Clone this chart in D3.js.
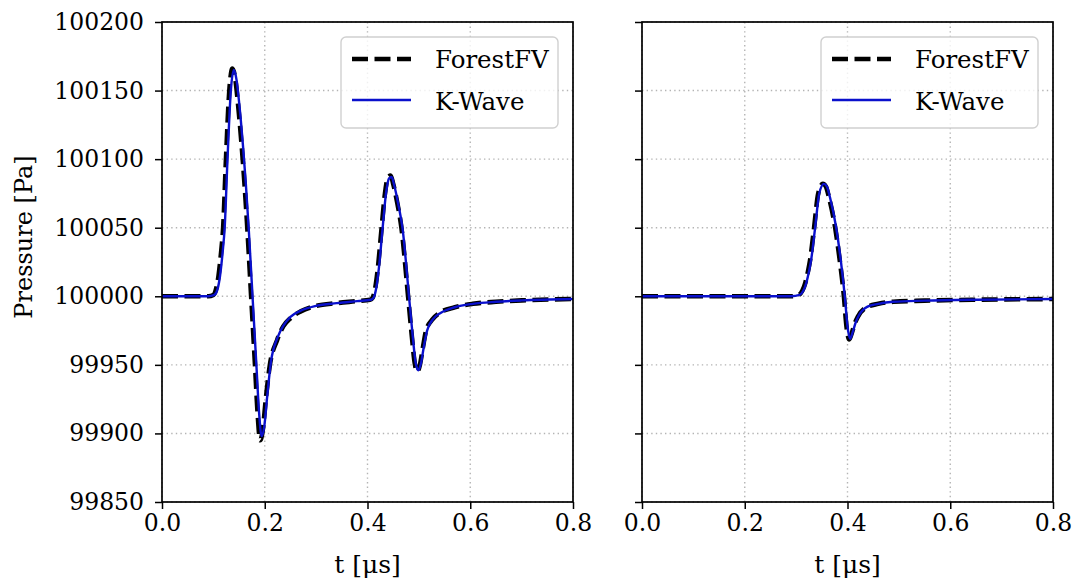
<!DOCTYPE html>
<html><head><meta charset="utf-8">
<script src="https://cdn.jsdelivr.net/npm/d3@7"></script>
<style>
html,body{margin:0;padding:0;background:#fff;}
svg{display:block;}
text{font-family:"DejaVu Serif","Liberation Serif",serif;fill:#000;}
</style></head>
<body><svg id="c" width="1075" height="581"></svg>
<script>
// ---------------- data ----------------
const seriesNames = ["ForestFV", "K-Wave"];
const xTicks = [0.0, 0.2, 0.4, 0.6, 0.8];
const yTicks = [99850, 99900, 99950, 100000, 100050, 100100, 100150, 100200];
const xLabel = "t [\u03bcs]";
const yLabel = "Pressure [Pa]";

// Left panel, ForestFV
const tLeftFV = [0,0.05,0.09,0.1,0.105,0.11,0.115,0.119,0.1245,0.131,0.137,0.142,0.148,0.155,0.16,0.166,0.1735,0.181,0.186,0.191,0.196,0.202,0.21,0.224,0.236,0.25,0.27,0.3,0.34,0.38,0.405,0.41,0.415,0.42,0.4275,0.434,0.44,0.445,0.45,0.458,0.466,0.479,0.486,0.492,0.497,0.502,0.508,0.514,0.526,0.541,0.57,0.605,0.65,0.7,0.8];
const pLeftFV = [100000,100000,100000,100001,100005,100015,100032,100050,100100,100150,100166,100160,100140,100110,100085,100050,100000,99950,99915,99895,99902,99925,99950,99968,99978,99984,99989,99993,99995,99996.5,99997.5,99999,100006,100020,100050,100075,100087,100088,100082,100068,100050,100000,99972,99951,99945,99950,99963,99975,99983,99988,99992,99994.5,99996,99997,99998];
// Left panel, K-Wave
const tLeftKW = [0,0.05,0.09,0.102,0.108,0.113,0.118,0.122,0.1275,0.134,0.14,0.145,0.151,0.158,0.163,0.169,0.1765,0.184,0.189,0.194,0.199,0.205,0.212,0.225,0.237,0.25,0.27,0.3,0.34,0.38,0.407,0.412,0.417,0.422,0.4295,0.436,0.442,0.447,0.452,0.46,0.468,0.481,0.488,0.494,0.499,0.504,0.51,0.516,0.528,0.543,0.57,0.605,0.65,0.7,0.8];
const pLeftKW = [100000,100000,100000,100001,100005,100015,100032,100050,100100,100150,100165,100158,100138,100108,100083,100048,99998,99948,99915,99898,99905,99928,99952,99970,99979,99985,99989.5,99993,99995,99996.5,99997.5,99999,100006,100020,100050,100075,100086,100087,100081,100067,100050,99999,99971,99951,99946,99951,99964,99975,99983.5,99988,99992,99994.5,99996,99997,99998];
// Right panel, ForestFV
const tRightFV = [0,0.1,0.2,0.29,0.305,0.312,0.318,0.323,0.327,0.335,0.343,0.352,0.358,0.364,0.376,0.385,0.393,0.398,0.4035,0.409,0.414,0.42,0.437,0.46,0.489,0.55,0.65,0.8];
const pRightFV = [100000,100000,100000,100000,100001,100004,100010,100018,100026,100050,100075,100082,100080,100072,100050,100026,100000,99978,99968.5,99974,99980,99985,99992,99994.5,99996,99996.8,99997.5,99998];
// Right panel, K-Wave
const tRightKW = [0,0.1,0.2,0.29,0.307,0.314,0.32,0.325,0.329,0.337,0.345,0.354,0.36,0.366,0.378,0.387,0.395,0.4,0.405,0.411,0.416,0.422,0.439,0.46,0.489,0.55,0.65,0.8];
const pRightKW = [100000,100000,100000,100000,100001,100004,100010,100018,100026,100050,100075,100082,100080,100072,100050,100026,99999,99978,99969,99975,99981,99986,99992.5,99994.5,99996,99996.8,99997.5,99998];

// ---------------- drawing ----------------
const svg = d3.select("#c");
const yTop = 22, yBot = 502;
const panels = [
  {x0:162, x1:573, fv:[tLeftFV,pLeftFV], kw:[tLeftKW,pLeftKW], yLabels:true},
  {x0:642, x1:1053, fv:[tRightFV,pRightFV], kw:[tRightKW,pRightKW], yLabels:false}
];
const y = d3.scaleLinear().domain([99850,100200]).range([yBot, yTop]);
const zip = (a,b)=>a.map((v,i)=>[v,b[i]]);
const dash = "16,6.5";

panels.forEach((pn, idx) => {
  const x = d3.scaleLinear().domain([0,0.8]).range([pn.x0, pn.x1]);
  const g = svg.append("g");
  const clipId = "clip"+idx;
  svg.append("clipPath").attr("id", clipId).append("rect")
    .attr("x", pn.x0).attr("y", yTop).attr("width", pn.x1-pn.x0).attr("height", yBot-yTop);

  // grid
  const grid = g.append("g").attr("stroke","#b4b4b4").attr("stroke-width",1.4).attr("stroke-dasharray","1.4,3.2");
  xTicks.forEach(t => grid.append("line").attr("x1",x(t)).attr("x2",x(t)).attr("y1",yTop).attr("y2",yBot));
  yTicks.forEach(v => grid.append("line").attr("x1",pn.x0).attr("x2",pn.x1).attr("y1",y(v)).attr("y2",y(v)));

  const line = d3.line().x(d=>x(d[0])).y(d=>y(d[1])).curve(d3.curveMonotoneX);
  const lines = g.append("g").attr("clip-path", `url(#${clipId})`);
  lines.append("path").datum(zip(pn.fv[0], pn.fv[1])).attr("d", line)
    .attr("fill","none").attr("stroke","#000").attr("stroke-width",4.6).attr("stroke-dasharray",dash);
  lines.append("path").datum(zip(pn.kw[0], pn.kw[1])).attr("d", line)
    .attr("fill","none").attr("stroke","#0a10cc").attr("stroke-width",2.4);

  // axes
  const xAxis = d3.axisBottom(x).tickValues(xTicks).tickFormat(d3.format(".1f")).tickSize(7).tickPadding(5);
  const gx = g.append("g").attr("transform",`translate(0,${yBot})`).call(xAxis);
  const yAxis = d3.axisLeft(y).tickValues(yTicks).tickFormat(pn.yLabels ? d3.format("d") : "").tickSize(7).tickPadding(11);
  const gy = g.append("g").attr("transform",`translate(${pn.x0},0)`).call(yAxis);
  [gx,gy].forEach(a => {
    a.select(".domain").remove();
    a.selectAll(".tick line").attr("stroke","#000").attr("stroke-width",1.5);
    a.selectAll(".tick text").style("font-family",'"DejaVu Serif",serif').style("font-size","23.5px").attr("fill","#000");
  });
  // frame
  g.append("rect").attr("x",pn.x0).attr("y",yTop).attr("width",pn.x1-pn.x0).attr("height",yBot-yTop)
    .attr("fill","none").attr("stroke","#000").attr("stroke-width",1.7);

  // x label
  g.append("text").attr("x",(pn.x0+pn.x1)/2).attr("y",573).attr("text-anchor","middle")
    .style("font-size","25px").text(xLabel);

  // legend
  const lx = pn.x1-232, ly = 37;
  const lg = g.append("g");
  lg.append("rect").attr("x",lx).attr("y",ly).attr("width",217).attr("height",91).attr("rx",5)
    .attr("fill","#fff").attr("fill-opacity",0.8).attr("stroke","#d0d0d0").attr("stroke-width",1.4);
  lg.append("line").attr("x1",lx+11).attr("x2",lx+70).attr("y1",ly+22).attr("y2",ly+22)
    .attr("stroke","#000").attr("stroke-width",4.6).attr("stroke-dasharray",dash);
  lg.append("line").attr("x1",lx+11).attr("x2",lx+70).attr("y1",ly+63).attr("y2",ly+63)
    .attr("stroke","#0a10cc").attr("stroke-width",2.4);
  lg.append("text").attr("x",lx+94).attr("y",ly+31).style("font-size","24.5px").text(seriesNames[0]);
  lg.append("text").attr("x",lx+94).attr("y",ly+73).style("font-size","24.5px").text(seriesNames[1]);
});

// y label
svg.append("text").attr("transform",`translate(32,${(yTop+yBot)/2 - 25}) rotate(-90)`)
  .attr("text-anchor","middle").style("font-size","24px").text(yLabel);
</script></body></html>
